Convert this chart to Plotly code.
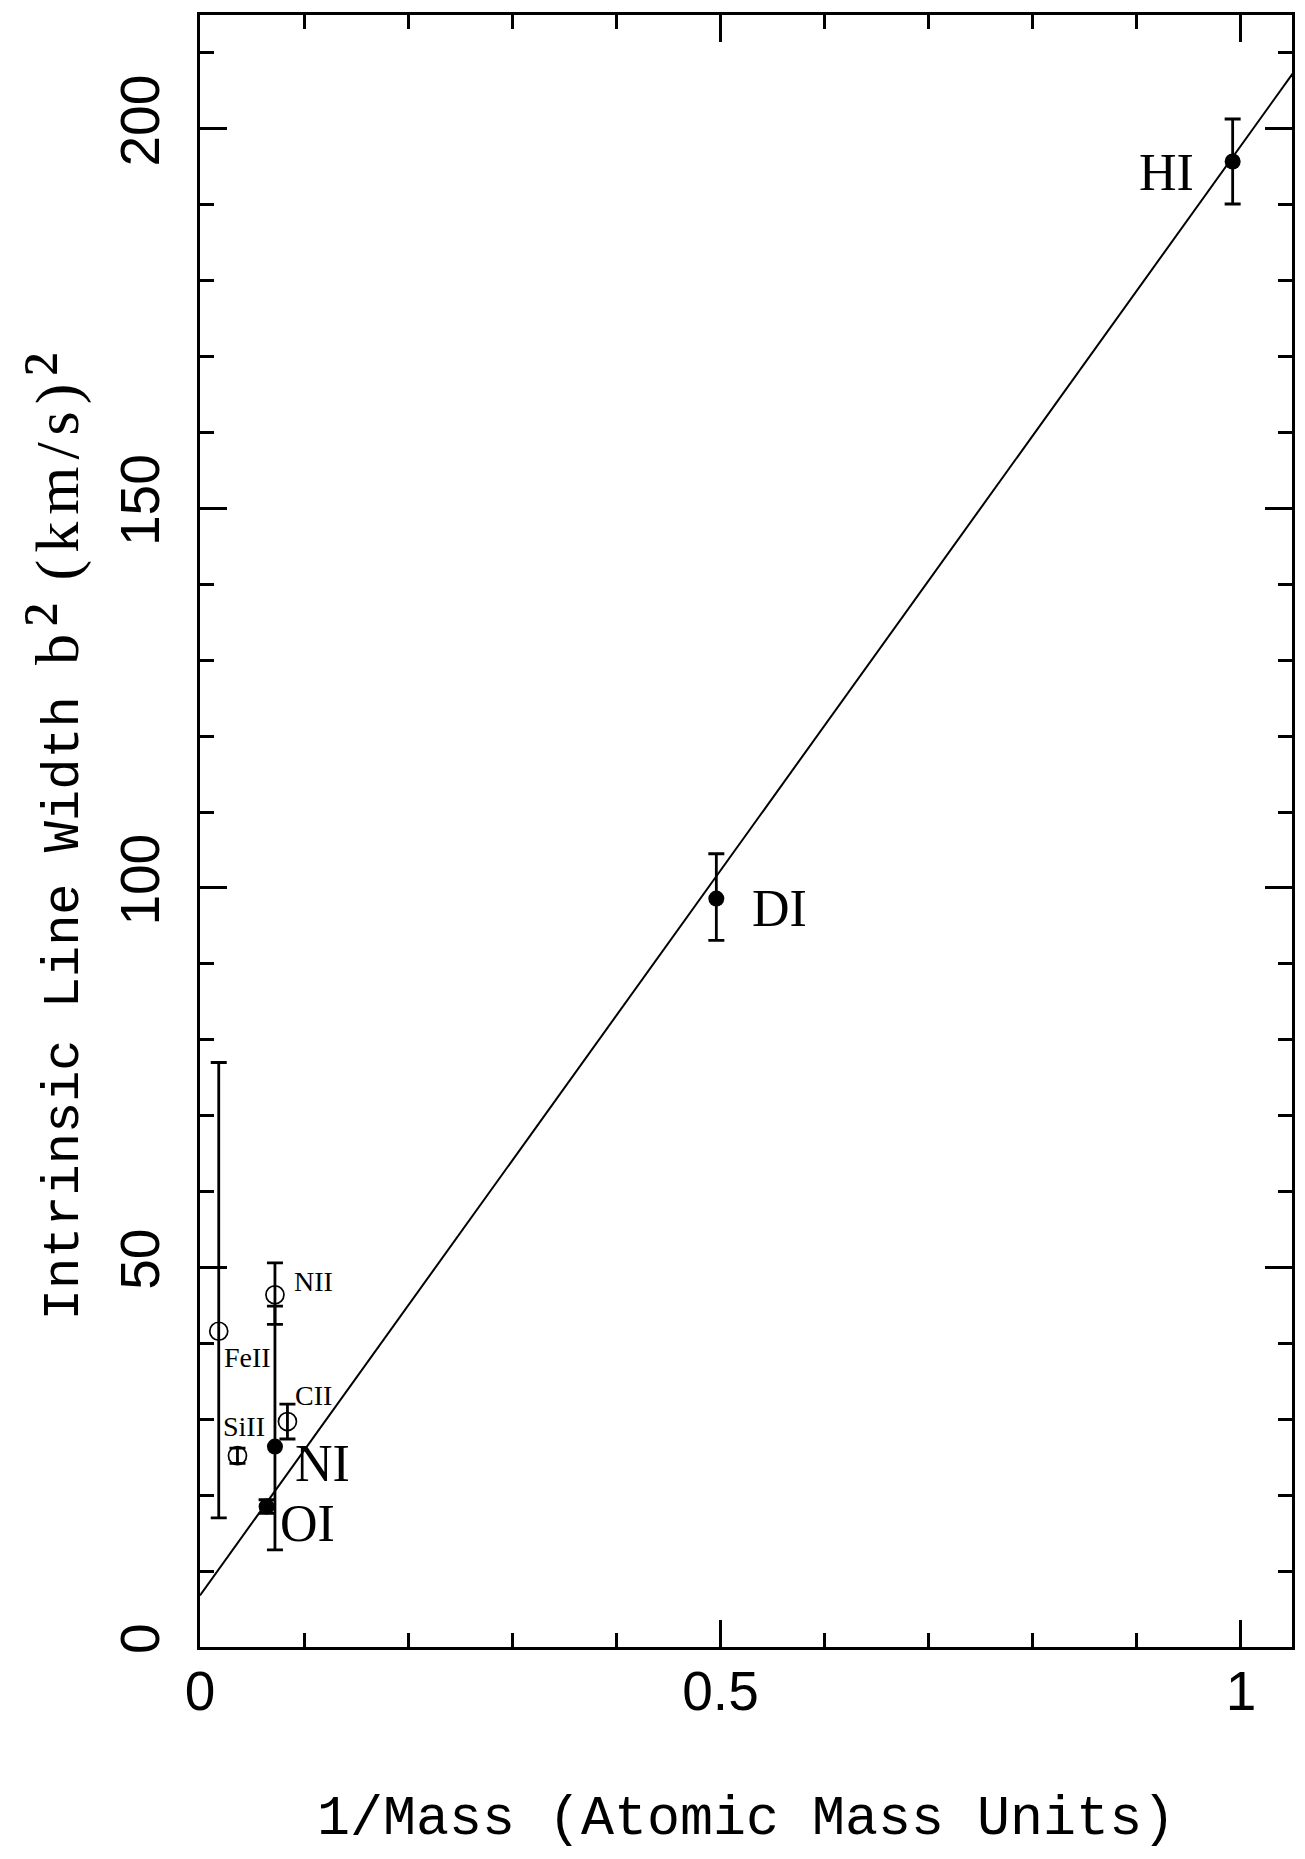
import plotly.graph_objects as go

# ---- data ----
filled_names = ["HI", "DI", "NI", "OI"]
filled_x = [0.992, 0.496, 0.072, 0.064]
filled_y = [195.7, 98.6, 26.4, 18.5]
filled_err_plus = [5.6, 5.9, 18.5, 0.9]
filled_err_minus = [5.6, 5.5, 13.6, 0.9]

open_names = ["FeII", "NII", "CII", "SiII"]
open_x = [0.018, 0.072, 0.084, 0.036]
open_y = [41.6, 46.4, 29.7, 25.2]
open_err_plus = [35.4, 4.2, 2.3, 1.0]
open_err_minus = [24.6, 3.9, 2.3, 1.0]

fit_intercept = 6.8
fit_slope = 191.0
fit_x = [0.0, 1.1]
fit_y = [fit_intercept + fit_slope * v for v in fit_x]

x_tickvals = [0, 0.5, 1]
x_ticktext = ["0", "0.5", "1"]
y_tickvals = [0, 50, 100, 150, 200]
y_ticktext = ["0", "50", "100", "150", "200"]

# label placement (data coords)
big_label_x = [0.928, 0.557, 0.118, 0.103]
big_label_y = [194.2, 97.3, 24.2, 16.3]
small_label_x = [0.0458, 0.1086, 0.1086, 0.0426]
small_label_y = [38.1, 48.1, 33.1, 29.1]

fig = go.Figure()

fig.add_trace(go.Scatter(x=fit_x, y=fit_y, mode="lines",
                         line=dict(color="black", width=2),
                         showlegend=False, hoverinfo="skip"))

fig.add_trace(go.Scatter(
    x=open_x, y=open_y, mode="markers",
    marker=dict(symbol="circle-open", size=18, color="black",
                line=dict(color="black", width=1.7)),
    error_y=dict(type="data", symmetric=False, array=open_err_plus,
                 arrayminus=open_err_minus, color="black", thickness=2.8, width=8),
    showlegend=False))

fig.add_trace(go.Scatter(
    x=filled_x, y=filled_y, mode="markers",
    marker=dict(symbol="circle", size=16, color="black"),
    error_y=dict(type="data", symmetric=False, array=filled_err_plus,
                 arrayminus=filled_err_minus, color="black", thickness=2.8, width=8),
    showlegend=False))

annotations = []
for name, lx, ly in zip(filled_names, big_label_x, big_label_y):
    annotations.append(dict(x=lx, y=ly, xref="x", yref="y", text=name,
                            showarrow=False, xanchor="center", yanchor="middle",
                            font=dict(family="Liberation Serif", size=52, color="black")))
for name, lx, ly in zip(open_names, small_label_x, small_label_y):
    annotations.append(dict(x=lx, y=ly, xref="x", yref="y", text=name,
                            showarrow=False, xanchor="center", yanchor="middle",
                            font=dict(family="Liberation Serif", size=28, color="black")))

# axis titles
annotations.append(dict(
    x=0.5, y=-0.106, xref="paper", yref="paper", showarrow=False,
    xanchor="center", yanchor="middle",
    text="1/Mass (Atomic Mass Units)",
    font=dict(family="Liberation Mono", size=55, color="black")))
annotations.append(dict(
    x=-0.137, y=0.497, xref="paper", yref="paper", showarrow=False,
    xanchor="center", yanchor="middle", textangle=-90,
    text=("Intrinsic Line Width "
          "<span style='font-family:Liberation Serif;font-size:62px;letter-spacing:7px'>b</span>"
          "<span style='font-family:Liberation Serif;font-size:80px'>\u00b2</span>"
          "<span style='font-family:Liberation Serif;font-size:62px;letter-spacing:7px'> (km/s)</span>"
          "<span style='font-family:Liberation Serif;font-size:80px'>\u00b2</span>"),
    font=dict(family="Liberation Mono", size=52, color="black")))

axis_common = dict(
    showline=True, linecolor="black", linewidth=3, mirror="allticks",
    ticks="inside", ticklen=27, tickwidth=2.5, tickcolor="black",
    showgrid=False, zeroline=False, automargin=False,
    tickfont=dict(family="Liberation Sans", size=55, color="black"),
)

fig.update_xaxes(range=[0, 1.049], tickmode="array", tickvals=x_tickvals,
                 ticktext=x_ticktext, ticklabelstandoff=-6,
                 minor=dict(dtick=0.1, tick0=0, ticks="inside", ticklen=14,
                            tickwidth=2.5, tickcolor="black", showgrid=False),
                 **axis_common)
fig.update_yaxes(range=[0, 215], tickmode="array", tickvals=y_tickvals,
                 ticktext=y_ticktext, tickangle=-90, ticklabelstandoff=16,
                 minor=dict(dtick=10, tick0=0, ticks="inside", ticklen=14,
                            tickwidth=2.5, tickcolor="black", showgrid=False),
                 **axis_common)

# page body has an 8px default margin, so the figure is sized to fit inside it
fig.update_layout(
    width=1289, height=1843,
    margin=dict(l=192, r=5, t=7, b=204, pad=0, autoexpand=False),
    plot_bgcolor="white", paper_bgcolor="white",
    annotations=annotations,
    showlegend=False,
)

fig.write_html("out.html")
